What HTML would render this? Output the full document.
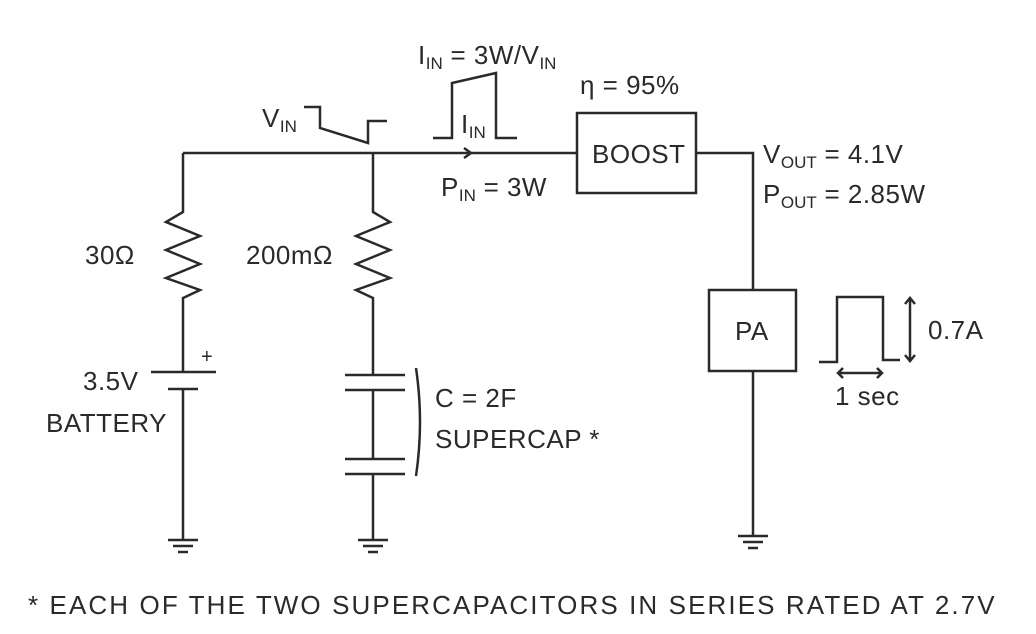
<!DOCTYPE html>
<html><head><meta charset="utf-8"><style>
html,body{margin:0;padding:0;background:#fff}
svg{display:block}
text{font-family:"Liberation Sans",sans-serif;fill:#2a2a2a;font-size:26px;letter-spacing:0.5px}
.s{font-size:17px;letter-spacing:0}
</style></head><body>
<svg width="1036" height="634" viewBox="0 0 1036 634" xmlns="http://www.w3.org/2000/svg">
<g stroke="#2a2a2a" stroke-width="2.5" fill="none">
<path d="M183 153 H577"/>
<path d="M696 153 H753 V290"/>
<path d="M464 148 L471 153 L464 158"/>
<path d="M183 153 V212 L166 222 L200 236 L166 250 L200 264 L166 278 L200 290 L183 298 V372"/>
<path d="M151 372 H216"/>
<path d="M168 389 H198"/>
<path d="M183 389 V540"/>
<path d="M168 540 H198 M173 546 H193 M178 552 H188"/>
<path d="M373 153 V212 L390 222 L356 236 L390 250 L356 264 L390 278 L356 290 L373 298 V375"/>
<path d="M345 375 H405 M345 390 H405"/>
<path d="M373 390 V459"/>
<path d="M345 459 H405 M345 474 H405"/>
<path d="M373 474 V540"/>
<path d="M358 540 H388 M363 546 H383 M368 552 H378"/>
<path d="M416 368 Q424 422 416 476"/>
<rect x="577" y="113" width="119" height="80"/>
<rect x="709" y="290" width="87" height="81"/>
<path d="M753 371 V536"/>
<path d="M738 536 H768 M743 542 H763 M748 548 H758"/>
<path d="M304 107 H320 V128 L368 143 V121 H387"/>
<path d="M433 138 H452 V83 L496 73 V138 H517"/>
<path d="M819 362 H837 V297 H883 V360 H900"/>
<path d="M910 298 V361 M905 304 L910 298 L915 304 M905 355 L910 361 L915 355"/>
<path d="M838 373 H882 M843 368 L838 373 L843 378 M877 368 L882 373 L877 378"/>
</g>
<text x="418" y="64">I<tspan class="s" dy="5">IN</tspan><tspan dy="-5"> = 3W/V</tspan><tspan class="s" dy="5">IN</tspan></text>
<text x="580" y="94">η = 95%</text>
<text x="262" y="127">V<tspan class="s" dy="5">IN</tspan></text>
<text x="461" y="133">I<tspan class="s" dy="5">IN</tspan></text>
<text x="441" y="196">P<tspan class="s" dy="5">IN</tspan><tspan dy="-5"> = 3W</tspan></text>
<text x="592" y="163">BOOST</text>
<text x="763" y="163">V<tspan class="s" dy="5">OUT</tspan><tspan dy="-5"> = 4.1V</tspan></text>
<text x="763" y="203">P<tspan class="s" dy="5">OUT</tspan><tspan dy="-5"> = 2.85W</tspan></text>
<text x="85" y="264">30Ω</text>
<text x="246" y="264">200mΩ</text>
<text x="201" y="363" style="font-size:20px">+</text>
<text x="83" y="390">3.5V</text>
<text x="46" y="432">BATTERY</text>
<text x="435" y="407">C = 2F</text>
<text x="435" y="448">SUPERCAP *</text>
<text x="735" y="340">PA</text>
<text x="928" y="339">0.7A</text>
<text x="835" y="405">1 sec</text>
<text x="28" y="614" style="font-size:26px;letter-spacing:2.1px">* EACH OF THE TWO SUPERCAPACITORS IN SERIES RATED AT 2.7V</text>
</svg>
</body></html>
